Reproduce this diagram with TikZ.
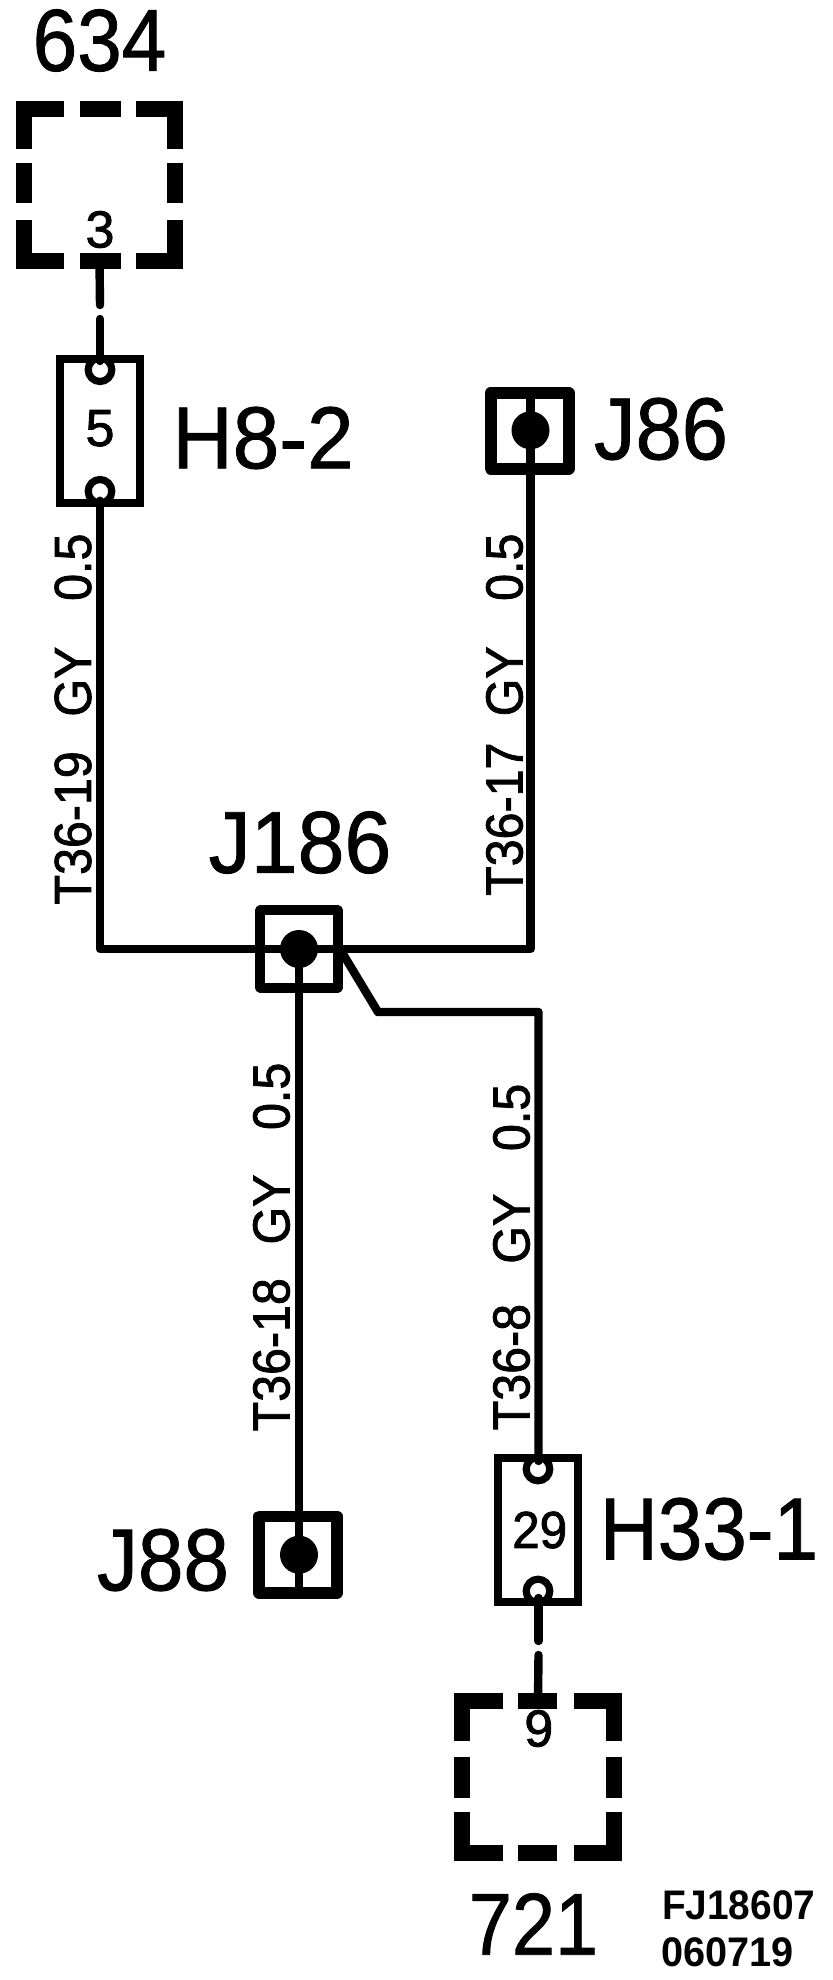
\documentclass[tikz,border=0pt]{standalone}
\usepackage{fontspec}
\usepackage{graphicx}
\setmainfont{Liberation Sans}
\newfontfamily\emfont[FakeBold=1.6]{Liberation Sans}
\newfontfamily\emfontlight[FakeBold=1.0]{Liberation Sans}
\newcommand{\fpx}[1]{\fontsize{#1}{#1}\selectfont}
\newcommand{\wlabel}[5]{\scalebox{#1}[1]{#2\hspace{#4pt}GY\hspace{#5pt}#3}}
\tikzset{
  wire/.style={line width=6.3pt,line cap=round,line join=round,black},
  dbox/.style={line width=11.8pt,line cap=butt,line join=miter,black},
  pinbox/.style={draw,line width=6pt,rectangle,inner sep=0pt},
  splicebox/.style={draw,line width=#1,rectangle,inner sep=0pt,line join=round},
  pin/.style={draw,line width=5.4pt,circle,inner sep=0pt,minimum size=17.7pt},
  dot/.style={fill,circle,inner sep=0pt,minimum size=28.5pt},
  ghost/.style={rectangle,inner sep=0pt},
  bigtxt/.style={inner sep=0pt,font=\emfontlight\fpx{66}},
  midtxt/.style={inner sep=0pt,font=\emfont\fpx{39}},
  wiretxt/.style={inner sep=0pt,font=\emfont\fpx{39},rotate=90},
  codetxt/.style={inner sep=0pt,font=\bfseries\fpx{31}}
}
\begin{document}
\begin{tikzpicture}[x=0.75pt,y=-0.75pt]
\useasboundingbox (0,0) rectangle (832,1980);
% named parts
\node[ghost,minimum width=113.6pt,minimum height=114.4pt] (b634) at (99.5,185) {};
\node[ghost,minimum width=114.4pt,minimum height=114.4pt] (b721) at (538,1777) {};
\node[pinbox,minimum width=60pt,minimum height=108pt] (h82) at (100,431) {};
\node[pin] (p82t) at (100,369.7) {};
\node[pin] (p82b) at (100,491.3) {};
\node[pinbox,minimum width=60pt,minimum height=108pt] (h331) at (538,1530) {};
\node[pin] (p331t) at (538,1469) {};
\node[pin] (p331b) at (538,1591) {};
\node[splicebox=9pt,minimum width=58.5pt,minimum height=56.6pt] (j86) at (529.5,430.8) {};
\node[dot] (d86) at (530.5,430.3) {};
\node[splicebox=7.5pt,minimum width=58pt,minimum height=58pt] (j186) at (299,949) {};
\node[dot] (d186) at (299,949) {};
\node[splicebox=8.5pt,minimum width=58.5pt,minimum height=57.5pt] (j88) at (298,1554.5) {};
\node[dot] (d88) at (299,1554.7) {};
% dashed boxes
\draw[dbox] (63.5,108.75) -- (23.75,108.75) -- (23.75,149);
\draw[dbox] (80,108.75) -- (121,108.75);
\draw[dbox] (136,108.75) -- (175.25,108.75) -- (175.25,149);
\draw[dbox] (23.75,163) -- (23.75,203);
\draw[dbox] (175.25,163) -- (175.25,203);
\draw[dbox] (23.75,220) -- (23.75,261.25) -- (63.5,261.25);
\draw[dbox] (80,261.25) -- (121,261.25);
\draw[dbox] (136,261.25) -- (175.25,261.25) -- (175.25,220);
\draw[dbox] (502.7,1700.7) -- (461.75,1700.7) -- (461.75,1740.7);
\draw[dbox] (518,1700.7) -- (557,1700.7);
\draw[dbox] (574,1700.7) -- (614.25,1700.7) -- (614.25,1740.7);
\draw[dbox] (461.75,1756.7) -- (461.75,1798);
\draw[dbox] (614.25,1756.7) -- (614.25,1798);
\draw[dbox] (461.75,1811.7) -- (461.75,1853) -- (502.7,1853);
\draw[dbox] (518,1853) -- (557,1853);
\draw[dbox] (574,1853) -- (614.25,1853) -- (614.25,1811.7);
% connector coordinates
\coordinate (g1) at (100,305);
\coordinate (g2) at (100,319);
\coordinate (t82) at (100,361);
\coordinate (g3) at (538.5,1641);
\coordinate (g4) at (538.5,1655);
\coordinate (t331b) at (538.5,1598);
\coordinate (t82b) at (100,500.7);
\coordinate (t331t) at (538.5,1461);
\coordinate (tap) at (340,949);
\coordinate (bend) at (378,1012);
\coordinate (cor) at (538.5,1012);
\coordinate (s88) at (299,1590);
\coordinate (s86) at (530.5,396);
% wires
\draw[wire] (b634.south) -- (g1);
\draw[wire] (g2) -- (t82);
\draw[wire] (t82b) |- (d186.center);
\draw[wire] (s86) |- (d186.center);
\draw[wire] (d186.center) -- (s88);
\draw[wire] (tap) -- (bend) -- (cor) -- (t331t);
\draw[wire] (t331b) -- (g3);
\draw[wire] (g4) -- (b721.north);
% labels
\node[bigtxt] (t634) at (99.5,40.5) {\scalebox{.91}[1]{634}};
\node[midtxt] (t3) at (100,229.5) {3};
\node[midtxt] (t5) at (100,428.3) {5};
\node[bigtxt] (th82) at (263,438) {\scalebox{.95}[1]{H8-2}};
\node[bigtxt] (tj86) at (661,429) {\scalebox{.944}[1]{J86}};
\node[bigtxt] (tj186) at (300,842.5) {\scalebox{.957}[1]{J186}};
\node[bigtxt] (tj88) at (163,1560) {\scalebox{.93}[1]{J88}};
\node[midtxt] (t29) at (539.7,1530) {\scalebox{.95}[1]{29}};
\node[midtxt] (t9) at (538.8,1728.5) {9};
\node[bigtxt] (th33) at (709,1529) {\scalebox{.91}[1]{H33-1}};
\node[bigtxt] (t721) at (533.5,1924) {\scalebox{.88}[1]{721}};
\node[codetxt] (tc1) at (738.7,1905) {\scalebox{.94}[1]{FJ18607}};
\node[codetxt] (tc2) at (727.5,1952) {\scalebox{.96}[1]{060719}};
\node[wiretxt] (w19) at (73,719) {\wlabel{.93}{T36-19}{0.5}{28}{37}};
\node[wiretxt] (w17) at (504.5,714.7) {\wlabel{.93}{T36-17}{0.5}{21.3}{36.7}};
\node[wiretxt] (w18) at (271.5,1247) {\wlabel{.93}{T36-18}{0.5}{27.2}{36}};
\node[wiretxt] (w8) at (511.5,1257) {\wlabel{.93}{T36-8}{0.5}{32.5}{34.5}};
\end{tikzpicture}
\end{document}
